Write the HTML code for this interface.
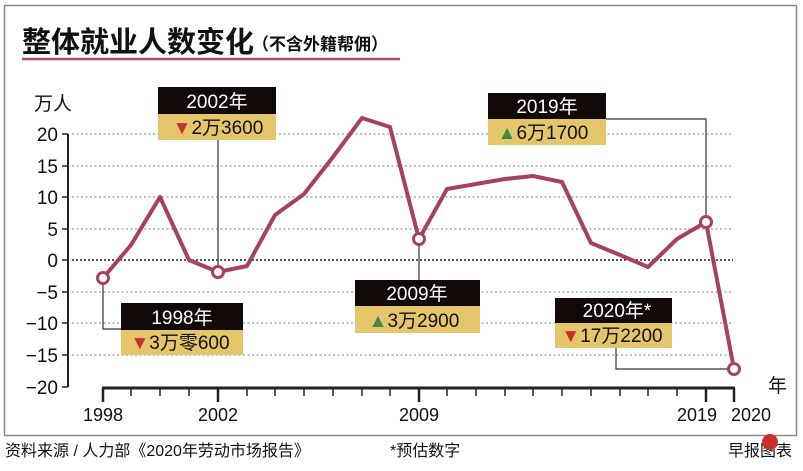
<!DOCTYPE html>
<html><head><meta charset="utf-8"><style>
body{margin:0;background:#fff;width:803px;height:466px;overflow:hidden}
text{font-family:"Liberation Sans","Noto Sans CJK SC",sans-serif}
</style></head><body>
<svg width="803" height="466" viewBox="0 0 803 466" xmlns="http://www.w3.org/2000/svg">
<rect x="4.5" y="5.5" width="792" height="430" fill="#fff" stroke="#8a8a8a" stroke-width="1.5"/>
<text x="22" y="52" font-size="29" font-weight="bold" fill="#111">整体就业人数变化</text>
<text x="252" y="50" font-size="17" font-weight="bold" fill="#111">（不含外籍帮佣）</text>
<line x1="22" y1="59" x2="400" y2="59" stroke="#a84e68" stroke-width="2.5"/>
<text x="34" y="110" font-size="19" fill="#111">万人</text>
<g stroke="#999" stroke-width="1.2" stroke-dasharray="2,2.5">
<line x1="72" y1="134" x2="733" y2="134"/><line x1="72" y1="166" x2="733" y2="166"/>
<line x1="72" y1="197" x2="733" y2="197"/><line x1="72" y1="229" x2="733" y2="229"/>
<line x1="72" y1="292" x2="733" y2="292"/><line x1="72" y1="323" x2="733" y2="323"/>
<line x1="72" y1="355" x2="733" y2="355"/>
</g>
<line x1="72" y1="260" x2="733" y2="260" stroke="#222" stroke-width="1.5" stroke-dasharray="2,2"/>
<line x1="68" y1="134" x2="68" y2="387" stroke="#222" stroke-width="2"/>
<g stroke="#222" stroke-width="1.5">
<line x1="62" y1="134" x2="68" y2="134"/><line x1="62" y1="166" x2="68" y2="166"/><line x1="62" y1="197" x2="68" y2="197"/><line x1="62" y1="229" x2="68" y2="229"/><line x1="62" y1="260" x2="68" y2="260"/><line x1="62" y1="292" x2="68" y2="292"/><line x1="62" y1="323" x2="68" y2="323"/><line x1="62" y1="355" x2="68" y2="355"/><line x1="62" y1="387" x2="68" y2="387"/>
</g>
<g font-size="19" fill="#111" text-anchor="end">
<text x="58" y="141">20</text><text x="58" y="173">15</text><text x="58" y="204">10</text><text x="58" y="236">5</text><text x="58" y="267">0</text><text x="58" y="299">−5</text><text x="58" y="330">−10</text><text x="58" y="362">−15</text><text x="58" y="394">−20</text>
</g>
<line x1="102" y1="388" x2="735" y2="388" stroke="#222" stroke-width="3"/>
<g stroke="#222" stroke-width="1.5">
<line x1="131" y1="388" x2="131" y2="396"/><line x1="160" y1="388" x2="160" y2="396"/><line x1="189" y1="388" x2="189" y2="396"/><line x1="247" y1="388" x2="247" y2="396"/><line x1="275" y1="388" x2="275" y2="396"/><line x1="304" y1="388" x2="304" y2="396"/><line x1="333" y1="388" x2="333" y2="396"/><line x1="362" y1="388" x2="362" y2="396"/><line x1="390" y1="388" x2="390" y2="396"/><line x1="447" y1="388" x2="447" y2="396"/><line x1="476" y1="388" x2="476" y2="396"/><line x1="505" y1="388" x2="505" y2="396"/><line x1="533" y1="388" x2="533" y2="396"/><line x1="562" y1="388" x2="562" y2="396"/><line x1="591" y1="388" x2="591" y2="396"/><line x1="620" y1="388" x2="620" y2="396"/><line x1="648" y1="388" x2="648" y2="396"/><line x1="677" y1="388" x2="677" y2="396"/>
</g>
<g stroke="#222" stroke-width="2.5">
<line x1="103" y1="388" x2="103" y2="402"/><line x1="218" y1="388" x2="218" y2="402"/><line x1="419" y1="388" x2="419" y2="402"/><line x1="706" y1="388" x2="706" y2="402"/><line x1="734" y1="388" x2="734" y2="402"/>
</g>
<g font-size="18" fill="#111" text-anchor="middle">
<text x="103" y="421">1998</text><text x="218" y="421">2002</text><text x="419" y="421">2009</text><text x="697" y="421">2019</text><text x="751" y="421">2020</text>
</g>
<text x="768" y="392" font-size="19" fill="#111">年</text>
<g stroke="#333" stroke-width="1.2" fill="none">
<polyline points="103,284 103,329 121,329"/>
<line x1="218" y1="140" x2="218" y2="266"/>
<line x1="419" y1="245" x2="419" y2="281"/>
<polyline points="606,119 706,119 706,216"/>
<polyline points="616,348 616,369 727,369"/>
</g>
<polyline fill="none" stroke="#a8415e" stroke-width="4" stroke-linejoin="round" points="103,278 131,245 160,197 189,260 218,272 247,266 275,215 304,194 333,157 362,118 390,127 419,239 447,189 476,184 505,179 533,176 562,182 591,243 620,255 648,267 677,239 706,222 734,369"/>
<g fill="#fff" stroke="#a8415e" stroke-width="3">
<circle cx="103" cy="278" r="5.5"/><circle cx="218" cy="272" r="5.5"/><circle cx="419" cy="239" r="5.5"/><circle cx="706" cy="222" r="5.5"/><circle cx="734" cy="369" r="5.5"/>
</g>
<g font-size="19" text-anchor="middle">
<rect x="158" y="87" width="118" height="27" fill="#120a08"/><rect x="158" y="114" width="118" height="26" fill="#e4c56a"/>
<text x="217" y="108" fill="#fff">2002年</text><text x="218" y="134" fill="#111"><tspan fill="#c9302c">▼</tspan>2万3600</text>
<rect x="488" y="93" width="118" height="26" fill="#120a08"/><rect x="488" y="119" width="118" height="26" fill="#e4c56a"/>
<text x="547" y="113" fill="#fff">2019年</text><text x="543" y="139" fill="#111"><tspan fill="#3f8a4a">▲</tspan>6万1700</text>
<rect x="121" y="303" width="122" height="27" fill="#120a08"/><rect x="121" y="330" width="122" height="25" fill="#e4c56a"/>
<text x="182" y="324" fill="#fff">1998年</text><text x="180" y="349" fill="#111"><tspan fill="#c9302c">▼</tspan>3万零600</text>
<rect x="355" y="280" width="125" height="26" fill="#120a08"/><rect x="355" y="306" width="125" height="27" fill="#e4c56a"/>
<text x="417" y="300" fill="#fff">2009年</text><text x="414" y="327" fill="#111"><tspan fill="#3f8a4a">▲</tspan>3万2900</text>
<rect x="555" y="298" width="117" height="25" fill="#120a08"/><rect x="555" y="323" width="117" height="25" fill="#e4c56a"/>
<text x="617" y="317" fill="#fff">2020年*</text><text x="612" y="342" fill="#111"><tspan fill="#c9302c">▼</tspan>17万2200</text>
</g>
<g font-size="16" fill="#111">
<text x="5" y="456">资料来源 /  人力部《2020年劳动市场报告》</text>
<text x="390" y="456">*预估数字</text>
<text x="728" y="456">早报图表</text>
</g>
<circle cx="770" cy="442" r="8" fill="#c8302c"/>
</svg>
</body></html>
